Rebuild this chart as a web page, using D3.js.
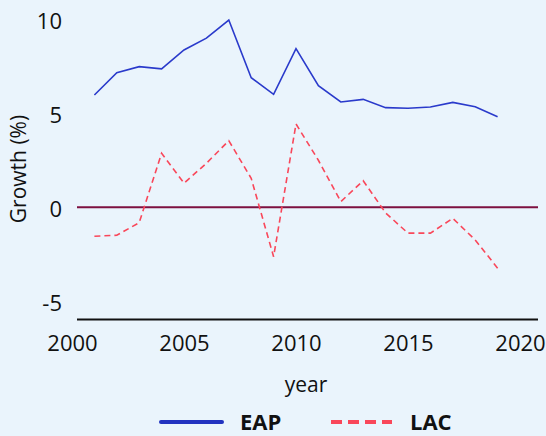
<!DOCTYPE html>
<html>
<head>
<meta charset="utf-8">
<script src="https://cdn.jsdelivr.net/npm/d3@7"></script>
<style>
  body { margin: 0; background: #eaf4fc; }
  text { font-family: "Open Sans", "Noto Sans", sans-serif; fill: #111; }
</style>
</head>
<body>
<div id="my_dataviz"></div>
<script>
// data
var years = [2001, 2002, 2003, 2004, 2005, 2006, 2007, 2008, 2009, 2010,
             2011, 2012, 2013, 2014, 2015, 2016, 2017, 2018, 2019];
var eap = [5.97, 7.16, 7.48, 7.36, 8.37, 9.0, 9.96, 6.89, 6.01, 8.44,
           6.47, 5.6, 5.74, 5.3, 5.27, 5.33, 5.58, 5.35, 4.82];
var lac = [-1.54, -1.49, -0.82, 2.87, 1.28, 2.34, 3.54, 1.54, -2.63, 4.43,
           2.5, 0.3, 1.41, -0.3, -1.38, -1.38, -0.59, -1.74, -3.24];
var xTicks = [2000, 2005, 2010, 2015, 2020];
var yTicks = [-5, 0, 5, 10];
var seriesNames = ["EAP", "LAC"];

var width = 546, height = 436;

var svg = d3.select("#my_dataviz")
  .append("svg")
    .attr("width", width)
    .attr("height", height);

svg.append("rect")
  .attr("width", width).attr("height", height)
  .style("fill", "#eaf4fc");

// scales
var x = d3.scaleLinear().domain([2000, 2020]).range([72, 520]);
var y = d3.scaleLinear().domain([-6, 10]).range([320, 19.3]);

var plotLeft = 77, plotRight = 538;

// y axis labels only (plain hyphen for negatives, like the original)
svg.append("g")
  .attr("transform", "translate(62,0)")
  .call(d3.axisLeft(y).tickValues(yTicks).tickFormat(function(d) { return String(d); }).tickSize(0).tickPadding(0))
  .call(function(g) { g.select(".domain").remove(); })
  .selectAll("text")
    .attr("dy", "0.4em")
    .style("font-size", "22px")
    .style("font-family", "'Open Sans', sans-serif")
    .style("fill", "#111");

// x axis
svg.append("g")
  .attr("transform", "translate(0," + 319.5 + ")")
  .call(d3.axisBottom(x).tickValues(xTicks).tickFormat(function(d) { return String(d); }).tickSize(0).tickPadding(16))
  .call(function(g) { g.select(".domain").remove(); })
  .selectAll("text")
    .style("font-size", "22px")
    .style("font-family", "'Open Sans', sans-serif")
    .style("fill", "#111");

svg.append("line")
  .attr("x1", plotLeft).attr("x2", plotRight)
  .attr("y1", 319.5).attr("y2", 319.5)
  .style("stroke", "#111")
  .style("stroke-width", 2);

// zero line
svg.append("line")
  .attr("x1", plotLeft).attr("x2", plotRight)
  .attr("y1", y(0)).attr("y2", y(0))
  .style("stroke", "#7d1040")
  .style("stroke-width", 2);

// axis titles
svg.append("text")
  .attr("transform", "translate(26,169) rotate(-90)")
  .style("text-anchor", "middle")
  .style("font-size", "21px")
  .text("Growth (%)");

svg.append("text")
  .attr("x", 306).attr("y", 392)
  .style("text-anchor", "middle")
  .style("font-size", "21px")
  .text("year");

// lines
var line = d3.line()
  .x(function(d, i) { return x(years[i]); })
  .y(function(d) { return y(d); });

svg.append("path")
  .datum(eap)
  .attr("d", line)
  .style("fill", "none")
  .style("stroke", "#2a3acb")
  .style("stroke-width", 1.6);

svg.append("path")
  .datum(lac)
  .attr("d", line)
  .style("fill", "none")
  .style("stroke", "#f9475a")
  .style("stroke-width", 1.6)
  .style("stroke-dasharray", "6,4");

// legend
var legend = svg.selectAll("myLegend")
  .data(seriesNames)
  .enter()
  .append("g")
    .attr("transform", function(d, i) { return "translate(" + (160 + i * 170) + ",422)"; });

legend.append("line")
  .attr("x1", 1).attr("x2", 62)
  .attr("y1", 0).attr("y2", 0)
  .style("stroke", function(d, i) { return i == 0 ? "#2233c0" : "#f9475a"; })
  .style("stroke-width", 4)
  .style("stroke-linecap", function(d, i) { return i == 0 ? "round" : "butt"; })
  .style("stroke-dasharray", function(d, i) { return i == 0 ? null : "11,6"; });

legend.append("text")
  .attr("x", 80).attr("y", 8)
  .style("font-size", "22px")
  .style("font-weight", "bold")
  .text(function(d) { return d; });
</script>
</body>
</html>
